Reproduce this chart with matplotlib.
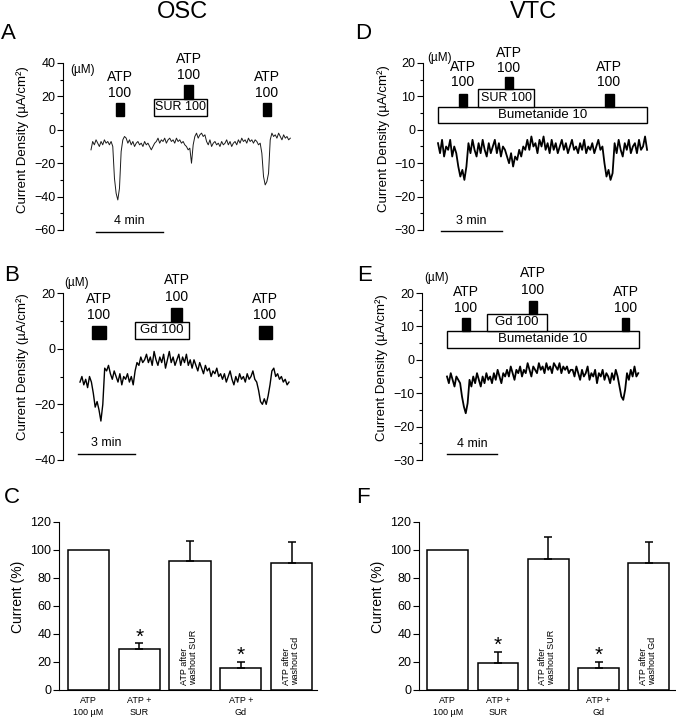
import numpy as np
import matplotlib
matplotlib.use("Agg")
from matplotlib import pyplot as plt
from matplotlib.patches import Rectangle
from matplotlib.ticker import MultipleLocator

plt.rcParams["font.family"] = ["Liberation Sans", "DejaVu Sans"]

W, H = 676, 719

# current traces, one sample every dt minutes (µA/cm²)
a_dt = 0.1
a_cur = [-12, -7, -9, -6, -8, -10, -7, -9, -6, -8, -7, -9, -7,
         -10, -29, -38, -42, -35, -13, -6, -4, -5,
         -8, -6, -9, -7, -10, -8, -7, -9, -8, -10, -7, -9, -8, -10,
         -12, -10, -8,
         -7, -5, -8, -6, -7, -5, -8, -6, -5, -7, -6, -8, -5, -7, -6, -8, -7, -9,
         -10, -12, -11, -20, -9, -4, -2, -5, -3, -2, -4, -3,
         -7, -9, -6, -10, -8, -7, -9, -8, -10, -7, -9, -8, -6, -9, -7, -10, -8,
         -7, -9, -6, -8, -5, -7, -6, -8, -5, -7, -6, -8, -6, -7, -9, -8,
         -14, -28, -33, -31, -26, -6, -2,
         -4, -3, -5, -2, -4, -6, -3, -5, -4, -6, -5]

b_dt = 0.1
b_cur = [-12, -10, -13, -11, -14, -10, -12,
         -16, -21, -19, -22, -26, -20,
         -7, -8, -6, -9, -11, -8, -10, -12, -9, -13, -10, -11, -9, -12, -10, -13,
         -8, -5, -6, -3, -5, -4,
         -2, -5, -3, -6, -1, -4, -6, -3, -5, -2, -7, -4, -1, -5, -3, -6, -4, -2,
         -6, -3, -5, -2, -6, -4,
         -7, -4, -6, -8, -5, -7, -9, -6, -8, -7, -10, -8, -9, -7, -10, -9,
         -11, -9, -12, -10, -8, -11, -13, -10, -12, -9, -11, -10, -12, -9, -11,
         -10, -8, -11, -12,
         -15, -19, -20, -18, -20, -17, -13,
         -8, -7, -10, -9, -11, -10, -12, -11, -13, -12]

d_dt = 0.1
d_cur = [-4, -7, -3, -8, -5, -6, -3, -8, -5, -7,
         -11, -14, -12, -15, -11,
         -4, -7, -3, -6, -8, -4, -7, -3, -6, -8, -4, -7, -5, -3, -7, -4, -8, -5, -6,
         -8, -10, -7, -11, -8, -9, -6, -8, -5, -6,
         -3, -6, -2, -5, -4, -7, -3, -5, -2, -6, -4, -7, -3, -6, -4, -7, -5, -3, -6,
         -4, -7, -5, -3, -6, -5, -7, -4, -6, -3, -7, -5, -6, -4, -7, -5, -3, -6, -5,
         -10, -14, -12, -15, -13,
         -4, -7, -3, -6, -8, -4, -6, -3, -7, -5, -4, -7, -3, -6, -5, -2, -6]

e_dt = 0.15
e_cur = [-5, -7, -4, -6, -8, -5, -6, -7,
         -11, -14, -16, -13,
         -6, -8, -5, -7, -4, -6, -8, -5, -7, -4, -6, -5, -7, -4, -6, -3, -5, -7, -4, -5,
         -3, -5, -2, -4, -6, -3, -4, -2, -5, -3, -4, -1, -3, -5, -2, -3, -4, -1, -3,
         -2, -4,
         -1, -3, -2, -4, -1, -2, -3, -1, -4, -2, -3, -2, -4, -3,
         -3, -5, -2, -4, -6, -3, -5, -4, -2, -6, -4, -5, -3, -7, -4, -5, -3, -6, -4,
         -5, -7, -4, -6, -3, -5,
         -8, -11, -12, -9,
         -4, -6, -3, -5, -2, -5, -4]

# drug application windows (min)
a_atp = [(1.49, 1.97), (5.55, 6.09), (10.27, 10.75)]
a_sur = (3.76, 6.93)
b_atp = [(0.63, 1.37), (4.79, 5.37), (9.42, 10.1)]
b_gd = (2.9, 5.74)
d_atp = [(1.03, 1.43), (3.30, 3.69), (8.23, 8.67)]
d_sur = (1.97, 4.73)
d_bum = (0.0, 10.3)
e_atp = [(1.2, 1.84), (6.56, 7.2), (14.0, 14.56)]
e_gd = (3.2, 8.0)
e_bum = (0.0, 15.36)

# summary bars (% of first ATP response)
bar_labels = ["ATP\n100 µM", "ATP +\nSUR", "", "ATP +\nGd", ""]
inner_labels = ["", "", "ATP after\nwashout SUR", "", "ATP after\nwashout Gd"]
c_vals = [100, 29, 92, 15.5, 90.5]
c_err = [0, 4.5, 14.5, 4.5, 15]
f_vals = [100, 19.5, 93.5, 15.5, 90.5]
f_err = [0, 8, 16, 4.5, 15]
signif = [False, True, False, True, False]

fig = plt.figure(figsize=(W / 100, H / 100), dpi=100)


def axesAt(left, top, right, bottom):
  return fig.add_axes([left / W, 1 - bottom / H, (right - left) / W, (bottom - top) / H])


def traceAxes(left, top, right, bottom, x0, pxPerMin, ylim, step, labRight, labY):
  ax = axesAt(left, top, right, bottom)
  ax.set_xlim((left - x0) / pxPerMin, (right - x0) / pxPerMin)
  ax.set_ylim(*ylim)
  ax.set_yticks(np.arange(ylim[0], ylim[1] + 1, step))
  ax.yaxis.set_minor_locator(MultipleLocator(step / 2))
  for s in ["top", "right", "bottom"]:
    ax.spines[s].set_visible(False)
  ax.spines["left"].set_linewidth(0.8)
  ax.set_xticks([])
  ax.tick_params(axis="y", which="major", length=4, width=0.8, labelsize=9, pad=1.5)
  ax.tick_params(axis="y", which="minor", length=2, width=0.8)
  ax.set_ylabel("Current Density (µA/cm²)", fontsize=9.5)
  ax.yaxis.set_label_coords((labRight - left) / (right - left), (bottom - labY) / (bottom - top))
  return ax


def block(ax, span, y0, y1, filled=True, text=None, fs=9):
  ax.add_patch(Rectangle((span[0], y0), span[1] - span[0], y1 - y0,
                         facecolor="black" if filled else "white",
                         edgecolor="black", lw=1, clip_on=False, zorder=3))
  if text:
    ax.text((span[0] + span[1]) / 2, (y0 + y1) / 2, text, ha="center", va="center",
            fontsize=fs, zorder=4)


def atpText(ax, t, yAtp, y100):
  ax.text(t, yAtp, "ATP", ha="center", va="center", fontsize=10)
  ax.text(t, y100, "100", ha="center", va="center", fontsize=10)


def scaleBar(ax, t0, t1, y, text, ty):
  ax.plot([t0, t1], [y, y], color="black", lw=1, clip_on=False)
  ax.text((t0 + t1) / 2, ty, text, ha="center", va="center", fontsize=9)


def barPanel(ax, vals, err, labRight, labY):
  x = np.arange(len(vals))
  v = np.array(vals, dtype=float)
  up = np.array(err, dtype=float)
  ax.bar(x, v, width=0.81, color="white", edgecolor="black", lw=1.1, zorder=2)
  has = up > 0
  ax.errorbar(x[has], v[has], yerr=[np.zeros(has.sum()), up[has]], fmt="none",
              ecolor="black", elinewidth=1.1, capsize=3, capthick=1.1, zorder=3)
  for i in range(len(vals)):
    if signif[i]:
      ax.text(x[i], v[i] + up[i] + 0.5, "*", ha="center", va="baseline", fontsize=15)
    if inner_labels[i]:
      ax.text(x[i] - 0.02, 3.5, inner_labels[i], rotation=90, ha="center", va="bottom",
              fontsize=6.5, multialignment="left", linespacing=1.0)
  ax.set_ylim(0, 120)
  ax.set_yticks(np.arange(0, 121, 20))
  ax.set_xticks(x, bar_labels)
  ax.tick_params(axis="x", length=0, labelsize=6.5, pad=4)
  ax.tick_params(axis="y", length=4, width=0.8, labelsize=9, pad=1.5)
  for s in ["top", "right"]:
    ax.spines[s].set_visible(False)
  for s in ["left", "bottom"]:
    ax.spines[s].set_linewidth(0.8)
  for lab in ax.get_xticklabels():
    lab.set_linespacing(1.5)
  ax.set_ylabel("Current (%)", fontsize=10)
  ax.yaxis.set_label_coords(labRight, labY)


# titles and panel letters
fig.text(182 / W, 1 - 12 / H, "OSC", ha="center", va="center", fontsize=17)
fig.text(533 / W, 1 - 12 / H, "VTC", ha="center", va="center", fontsize=17)
for lab, xp, yp in [("A", 1, 23), ("D", 355, 23), ("B", 4, 265), ("E", 357, 265),
                    ("C", 4, 487), ("F", 356, 487)]:
  fig.text(xp / W, 1 - yp / H, lab, ha="left", va="top", fontsize=16)

# A
axA = traceAxes(63, 63, 300, 230, 91, 16.75, (-60, 40), 20, 29, 140)
axA.plot(np.arange(len(a_cur)) * a_dt, a_cur, color="#1a1a1a", lw=0.7)
block(axA, a_atp[0], 8.4, 16.2)
block(axA, a_sur, 8.4, 18.6, False, "SUR 100", 9)
block(axA, a_atp[1], 18.6, 27)
block(axA, a_atp[2], 8.4, 16.2)
atpText(axA, 1.73, 31.8, 22.2)
atpText(axA, 5.85, 42.6, 33)
atpText(axA, 10.5, 31.8, 22.2)
axA.text(-0.48, 36, "(µM)", ha="center", va="center", fontsize=8.5)
scaleBar(axA, 0.3, 4.3, -61.2, "4 min", -54.6)

# D
axD = traceAxes(423, 63, 660, 230, 438, 20.3, (-30, 20), 10, 390, 139)
axD.plot(np.arange(len(d_cur)) * d_dt, d_cur, color="black", lw=1.3)
block(axD, d_bum, 2.1, 6.9, False, "Bumetanide 10", 9.5)
block(axD, d_sur, 6.9, 12.3, False, "SUR 100", 9)
block(axD, d_atp[0], 6.9, 10.8)
block(axD, d_atp[1], 12.3, 15.9)
block(axD, d_atp[2], 6.9, 10.8)
atpText(axD, 1.23, 18.9, 14.4)
atpText(axD, 3.5, 23.1, 18.6)
atpText(axD, 8.42, 18.9, 14.4)
axD.text(0.1, 21.6, "(µM)", ha="center", va="center", fontsize=8.5)
scaleBar(axD, 0.15, 3.15, -30.2, "3 min", -27.3)

# B
axB = traceAxes(63, 293, 300, 460, 80, 19, (-40, 20), 20, 29, 367)
axB.plot(np.arange(len(b_cur)) * b_dt, b_cur, color="black", lw=1.0)
block(axB, b_atp[0], 3.6, 8.3)
block(axB, b_gd, 3.6, 9.7, False, "Gd 100", 9.5)
block(axB, b_atp[1], 9.7, 14.7)
block(axB, b_atp[2], 3.6, 8.3)
atpText(axB, 1.0, 18, 12.2)
atpText(axB, 5.1, 24.8, 18.7)
atpText(axB, 9.74, 18, 12.2)
axB.text(-0.16, 23.7, "(µM)", ha="center", va="center", fontsize=8.5)
scaleBar(axB, -0.1, 2.9, -37.8, "3 min", -33.8)

# E
axE = traceAxes(422, 293, 660, 460, 447, 12.5, (-30, 20), 10, 388, 368)
axE.plot(np.arange(len(e_cur)) * e_dt, e_cur, color="black", lw=1.3)
block(axE, e_bum, 3.6, 8.7, False, "Bumetanide 10", 9.5)
block(axE, e_gd, 8.7, 13.8, False, "Gd 100", 9.5)
block(axE, e_atp[0], 8.7, 12.6)
block(axE, e_atp[1], 13.8, 17.7)
block(axE, e_atp[2], 8.7, 12.6)
atpText(axE, 1.52, 20.4, 15.6)
atpText(axE, 6.88, 26.1, 21)
atpText(axE, 14.3, 20.4, 15.6)
axE.text(-0.8, 24.6, "(µM)", ha="center", va="center", fontsize=8.5)
scaleBar(axE, 0.0, 4.0, -28.2, "4 min", -25.2)

# C
axC = axesAt(59, 522, 317, 690)
axC.set_xlim(-0.58, 4.50)
barPanel(axC, c_vals, c_err, (25 - 59) / (317 - 59), (690 - 597) / 168)

# F
axF = axesAt(419, 522, 676, 690)
axF.set_xlim(-0.57, 4.54)
barPanel(axF, f_vals, f_err, (385 - 419) / (676 - 419), (690 - 597) / 168)

fig.savefig("out.png", dpi=100)
